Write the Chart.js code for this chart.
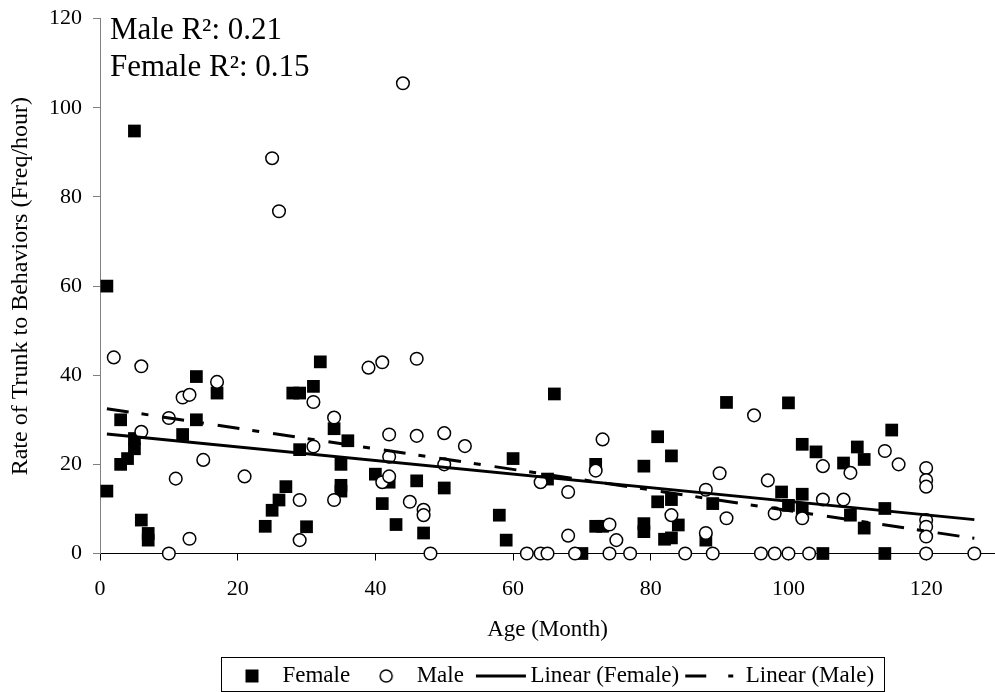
<!DOCTYPE html>
<html>
<head>
<meta charset="utf-8">
<script src="https://cdn.jsdelivr.net/npm/chart.js@4.4.0/dist/chart.umd.min.js"></script>
<style>
  html, body { margin: 0; padding: 0; background: #fff; }
</style>
</head>
<body>
<canvas id="trunkChart" width="995" height="692"></canvas>
<script>
// values
const femaleAge = [1, 1, 3, 3, 4, 5, 5, 5, 6, 7, 7, 12, 14, 14, 17, 24, 25, 26, 27, 28, 29, 29, 30, 31, 32,
  34, 35, 35, 35, 36, 40, 41, 42, 43, 46, 47, 50, 58, 59, 60, 65, 66, 70, 72, 72, 73, 79, 79, 79, 81,
  81, 82, 83, 83, 83, 84, 88, 89, 91, 99, 100, 100, 102, 102, 102, 104, 105, 108, 109, 110, 111, 111,
  114, 114, 115];
const femaleRate = [60, 14, 30, 20, 21.3, 25.8, 23.5, 94.8, 7.5, 4.5, 3, 26.7, 39.7, 30, 36, 6.1, 9.7, 12, 15, 36, 36, 23.3, 6, 37.5, 43,
  28, 20, 15.3, 14, 25.3, 17.8, 11.2, 16, 6.5, 16.3, 4.6, 14.7, 8.6, 3, 21.3, 16.7, 35.8, 0, 20, 6.1, 6.1, 19.6, 6.7, 4.9, 26.2,
  11.6, 3.2, 21.9, 12.1, 3.5, 6.4, 3, 11.2, 33.9, 13.8, 33.8, 10.8, 24.5, 13.3, 10.1, 22.8, 0, 20.3, 8.6, 23.9, 21.1, 5.7,
  10.1, 0, 27.7];

const maleAge = [2, 6, 6, 10, 10, 11, 12, 13, 13, 15, 17, 21, 25, 26, 29, 29, 31, 31, 34, 34, 39, 41, 41, 42, 42,
  42, 44, 45, 46, 46, 47, 47, 48, 50, 50, 53, 62, 64, 65, 64, 68, 68, 69, 72, 73, 74, 74, 75, 77, 83,
  85, 88, 88, 89, 90, 91, 95, 96, 97, 98, 98, 100, 103, 102, 105, 105, 108, 109, 114, 116, 120, 120,
  120, 120, 120, 120, 120, 127];
const maleRate = [44, 42, 27.3, 0, 30.4, 16.8, 35, 35.6, 3.3, 21, 38.5, 17.3, 88.7, 76.8, 12, 3, 34, 24, 30.5, 12, 41.7, 42.9, 16, 17.3, 21.7,
  26.7, 105.5, 11.6, 43.7, 26.4, 9.8, 8.6, 0, 27, 20, 24.1, 0, 0, 0, 16, 13.8, 4, 0, 18.6, 25.6, 6.5, 0, 3, 0, 8.6,
  0, 14.3, 4.6, 0, 18, 7.9, 31, 0, 16.4, 9, 0, 0, 0, 7.9, 19.6, 12.1, 12.1, 18.1, 23, 20, 19.2, 16.5,
  15, 7.5, 6, 3.8, 0, 0];

// trend line end points (as drawn)
const femaleFitAge = [1, 127];
const femaleFitRate = [26.8, 7.6];
const maleFitAge = [1, 127];
const maleFitRate = [32.5, 3.4];

const xTicks = [0, 20, 40, 60, 80, 100, 120];
const yTicks = [0, 20, 40, 60, 80, 100, 120];
const legendNames = ['Female', 'Male', 'Linear (Female)', 'Linear (Male)'];
const r2Notes = ['Male R\u00b2: 0.21', 'Female R\u00b2: 0.15'];

const serif = "'Liberation Serif', 'Times New Roman', serif";

function pairs(xs, ys) {
  return xs.map((x, i) => ({ x: x, y: ys[i] }));
}

// little pictures for the legend keys
function legendIcon(draw) {
  const c = document.createElement('canvas');
  c.width = 120;
  c.height = 24;
  const g = c.getContext('2d');
  g.fillStyle = '#000';
  g.strokeStyle = '#000';
  draw(g);
  return c;
}
const legendIcons = [
  legendIcon(g => g.fillRect(59.5, 5.5, 13, 13)),
  legendIcon(g => { g.lineWidth = 1.5; g.beginPath(); g.arc(66, 12, 6, 0, Math.PI * 2); g.stroke(); }),
  legendIcon(g => { g.lineWidth = 3; g.beginPath(); g.moveTo(42, 12); g.lineTo(92, 12); g.stroke(); }),
  legendIcon(g => { g.lineWidth = 3; g.beginPath(); g.moveTo(36, 12); g.lineTo(57, 12); g.moveTo(79, 12); g.lineTo(84, 12); g.stroke(); })
];

const legendFrame = {
  id: 'legendFrame',
  afterDraw(chart) {
    const boxes = chart.legend.legendHitBoxes;
    if (!boxes || !boxes.length) return;
    const first = boxes[0];
    const last = boxes[boxes.length - 1];
    const ctx = chart.ctx;
    const left = Math.round(first.left) + 0.5;
    const right = Math.round(last.left + last.width + 10) + 0.5;
    const top = Math.round(first.top - 8) + 0.5;
    const bottom = Math.min(chart.height - 0.5, Math.round(first.top + first.height + 5) + 0.5);
    ctx.save();
    ctx.strokeStyle = '#000';
    ctx.lineWidth = 1;
    ctx.strokeRect(left, top, right - left, bottom - top);
    ctx.restore();
  }
};

const r2Text = {
  id: 'r2Text',
  afterDraw(chart) {
    const ctx = chart.ctx;
    const a = chart.chartArea;
    ctx.save();
    ctx.fillStyle = '#000';
    ctx.font = '31px ' + serif;
    ctx.textBaseline = 'alphabetic';
    ctx.textAlign = 'left';
    r2Notes.forEach((t, i) => ctx.fillText(t, a.left + 10, a.top + 20 + i * 37));
    ctx.restore();
  }
};

new Chart(document.getElementById('trunkChart'), {
  type: 'scatter',
  data: {
    datasets: [
      {
        label: legendNames[0],
        data: pairs(femaleAge, femaleRate),
        pointStyle: 'rect',
        pointRadius: 9,
        backgroundColor: '#000',
        borderColor: '#000',
        borderWidth: 0,
        clip: false,
        order: 4
      },
      {
        label: legendNames[1],
        data: pairs(maleAge, maleRate),
        pointStyle: 'circle',
        pointRadius: 6.3,
        backgroundColor: '#fff',
        borderColor: '#000',
        borderWidth: 1.5,
        clip: false,
        order: 3
      },
      {
        label: legendNames[2],
        data: pairs(femaleFitAge, femaleFitRate),
        showLine: true,
        pointRadius: 0,
        borderColor: '#000',
        borderWidth: 3,
        order: 2
      },
      {
        label: legendNames[3],
        data: pairs(maleFitAge, maleFitRate),
        showLine: true,
        pointRadius: 0,
        borderColor: '#000',
        borderWidth: 3,
        borderDash: [22, 13, 7, 14],
        order: 1
      }
    ]
  },
  options: {
    responsive: false,
    animation: false,
    events: [],
    // the plot runs a little past the right edge of the picture
    layout: { autoPadding: false, padding: { top: 18.7, left: 0, right: -8.5, bottom: -5.5 } },
    scales: {
      x: {
        type: 'linear',
        min: 0,
        max: 130,
        afterBuildTicks: s => { s.ticks = xTicks.map(v => ({ value: v })); },
        afterFit: s => { s.height = 106; },
        border: { display: true, color: '#000', width: 1 },
        grid: { drawOnChartArea: false, drawTicks: true, tickLength: 7, color: '#000' },
        ticks: { color: '#000', padding: 16, maxRotation: 0, font: { family: serif, size: 22 } },
        title: { display: true, text: 'Age (Month)', color: '#000', padding: { top: 0, bottom: 16 }, font: { family: serif, size: 23 } }
      },
      y: {
        type: 'linear',
        min: 0,
        max: 120,
        afterBuildTicks: s => { s.ticks = yTicks.map(v => ({ value: v })); },
        afterFit: s => { s.width = 100; s.paddingTop = 0; s.paddingBottom = 0; },
        border: { display: true, color: '#808080', width: 1 },
        grid: { drawOnChartArea: false, drawTicks: true, tickLength: 7, color: '#808080' },
        ticks: { color: '#000', padding: 11, font: { family: serif, size: 22 } },
        title: { display: true, text: 'Rate of Trunk to Behaviors (Freq/hour)', color: '#000', padding: { top: 6, bottom: 0 }, font: { family: serif, size: 24 } }
      }
    },
    plugins: {
      tooltip: { enabled: false },
      legend: {
        position: 'bottom',
        fullSize: false,
        labels: {
          usePointStyle: true,
          pointStyleWidth: 50,
          boxHeight: 23,
          padding: 5,
          color: '#000',
          font: { family: serif, size: 23 },
          generateLabels: () => legendNames.map((t, i) => ({
            text: t,
            pointStyle: legendIcons[i],
            fillStyle: '#000',
            strokeStyle: '#000',
            lineWidth: 1,
            hidden: false,
            datasetIndex: i
          }))
        }
      }
    }
  },
  plugins: [legendFrame, r2Text]
});
</script>
</body>
</html>
